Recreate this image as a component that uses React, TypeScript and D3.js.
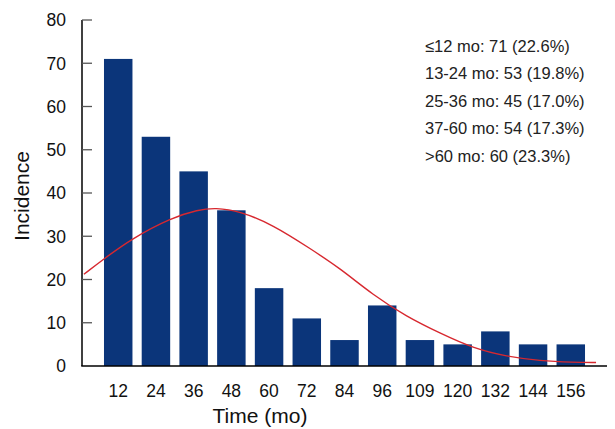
import React from "react";
import * as d3 from "d3";

const categories = ["12", "24", "36", "48", "60", "72", "84", "96", "109", "120", "132", "144", "156"];
const incidence = [71, 53, 45, 36, 18, 11, 6, 14, 6, 5, 8, 5, 5];
const yTicks = [0, 10, 20, 30, 40, 50, 60, 70, 80];
// fitted curve: position in category-index units, value
const curveX = [-0.91, -0.36, 0.35, 1.41, 2.12, 2.57, 3.23, 4.11, 5.08, 5.88, 6.76, 7.65, 8.53, 9.41, 10.3, 11.18, 12.07, 12.67];
const curveY = [21.2, 24.9, 29.4, 34.3, 36.1, 36.6, 35.8, 32.6, 27.2, 22.6, 16.4, 11.4, 7.6, 4.1, 2.2, 1.2, 0.85, 0.8];
const legendLines = [
  "≤12 mo: 71 (22.6%)",
  "13-24 mo: 53 (19.8%)",
  "25-36 mo: 45 (17.0%)",
  "37-60 mo: 54 (17.3%)",
  ">60 mo: 60 (23.3%)",
];

const W = 615;
const H = 429;
const left = 82;
const right = 607;
const top = 20;
const bottom = 366;
const FONT = "'Liberation Sans', Arial, Helvetica, sans-serif";

export default function App() {
  const x = d3
    .scaleBand<string>()
    .domain(categories)
    .range([left, right])
    .paddingInner(0.245)
    .paddingOuter(0.583);
  const y = d3.scaleLinear().domain([0, 80]).range([bottom, top]);
  const bw = x.bandwidth();
  const c0 = (x(categories[0]) as number) + bw / 2;
  const cN = (x(categories[categories.length - 1]) as number) + bw / 2;
  const xi = d3.scaleLinear().domain([0, categories.length - 1]).range([c0, cN]);
  const pts: [number, number][] = curveX.map((v, i) => [xi(v), y(curveY[i])]);
  const line = d3.line().curve(d3.curveBasis)(pts) as string;

  return (
    <svg
      width={W}
      height={H}
      style={{ position: "absolute", left: 0, top: 0, background: "#fff" }}
      fontFamily={FONT}
    >
      {categories.map((c, i) => (
        <rect
          key={c}
          x={x(c)}
          y={y(incidence[i])}
          width={bw}
          height={bottom - y(incidence[i])}
          fill="#0b357a"
        />
      ))}
      <path d={line} fill="none" stroke="#d7282f" strokeWidth={1.4} />
      {/* y axis */}
      <line x1={left} x2={left} y1={top} y2={bottom} stroke="#000" strokeWidth={1.5} />
      {yTicks.map((t) => (
        <g key={t}>
          {t > 0 && (
            <line x1={left} x2={left + 10} y1={y(t)} y2={y(t)} stroke="#555" strokeWidth={1.3} />
          )}
          <text x={66} y={y(t)} dy="0.36em" textAnchor="end" fontSize={17.5} fill="#111">
            {t}
          </text>
        </g>
      ))}
      {/* x axis */}
      <line x1={left - 0.75} x2={right} y1={bottom} y2={bottom} stroke="#000" strokeWidth={1.5} />
      {categories.map((c) => (
        <text
          key={c}
          x={(x(c) as number) + bw / 2}
          y={397}
          textAnchor="middle"
          fontSize={17.5}
          fill="#111"
        >
          {c}
        </text>
      ))}
      <text x={260} y={423} textAnchor="middle" fontSize={21} fill="#111">
        Time (mo)
      </text>
      <text
        transform={`translate(29, 196) rotate(-90)`}
        textAnchor="middle"
        fontSize={21}
        fill="#111"
      >
        Incidence
      </text>
      {legendLines.map((l, i) => (
        <text key={l} x={425} y={51.5 + i * 27.5} fontSize={16.5} fill="#222">
          {l}
        </text>
      ))}
    </svg>
  );
}
